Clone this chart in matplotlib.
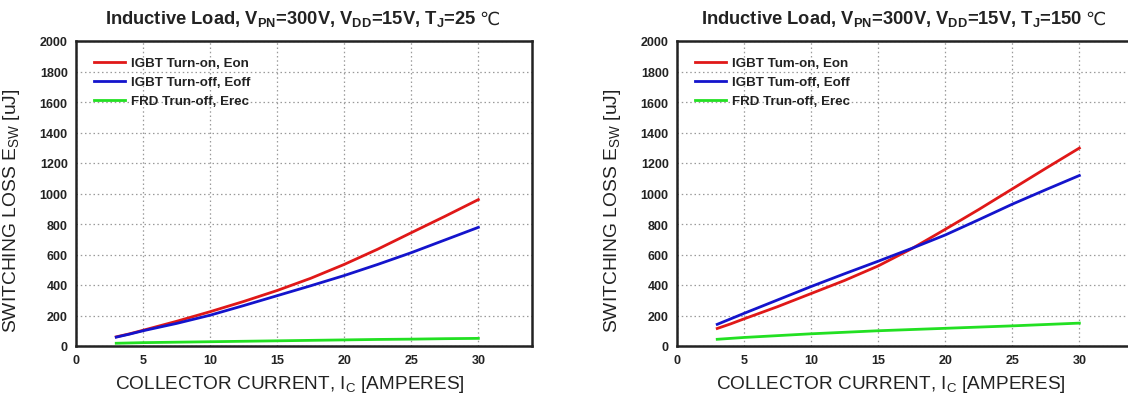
import matplotlib
matplotlib.use("Agg")
import matplotlib.pyplot as plt

plt.rcParams['font.family'] = ['Liberation Sans', 'DejaVu Sans']
plt.rcParams['mathtext.fontset'] = 'custom'
plt.rcParams['mathtext.rm'] = 'Liberation Sans'
plt.rcParams['mathtext.bf'] = 'Liberation Sans:bold'
plt.rcParams['mathtext.it'] = 'Liberation Sans:italic'
plt.rcParams['mathtext.sf'] = 'Liberation Sans'

# ---- data ----
ic = [3, 4, 5, 7.5, 10, 12.5, 15, 17.5, 20, 22.5, 25, 27.5, 30]
eon_25 = [60, 80, 103, 162, 225, 292, 364, 444, 535, 635, 743, 850, 960]
eoff_25 = [58, 78, 100, 148, 202, 265, 330, 395, 462, 535, 612, 695, 778]
erec_25 = [18, 20, 22, 25, 28, 31, 34, 37, 40, 43, 45, 48, 50]

eon_150 = [115, 145, 178, 258, 344, 430, 525, 638, 765, 895, 1030, 1165, 1298]
eoff_150 = [142, 178, 214, 302, 390, 474, 556, 640, 728, 828, 930, 1025, 1118]
erec_150 = [44, 50, 56, 68, 80, 90, 100, 108, 116, 124, 132, 141, 150]

temps = ["25", "150"]
labels_l = ["IGBT Turn-on, Eon", "IGBT Turn-off, Eoff", "FRD Trun-off, Erec"]
labels_r = ["IGBT Tum-on, Eon", "IGBT Tum-off, Eoff", "FRD Trun-off, Erec"]
xticks = [0, 5, 10, 15, 20, 25, 30]
yticks = list(range(0, 2001, 200))

colors = ["#e01818", "#1414cc", "#22e022"]

W, H = 1128, 402
fig = plt.figure(figsize=(W / 100, H / 100), dpi=100)

def px_axes(x0, x1, ytop, ybot):
    return fig.add_axes([x0 / W, 1 - ybot / H, (x1 - x0) / W, (ybot - ytop) / H])

panels = [
    (px_axes(76, 532, 42, 347), temps[0], labels_l, (eon_25, eoff_25, erec_25)),
    (px_axes(677, 1133, 42, 347), temps[1], labels_r, (eon_150, eoff_150, erec_150)),
]

for ax, t, labs, series in panels:
    for y, c, lab in zip(series, colors, labs):
        ax.plot(ic, y, color=c, lw=2, label=lab)
    ax.set_xlim(0, 34)
    ax.set_ylim(0, 2000)
    ax.set_xticks(xticks)
    ax.set_yticks(yticks)
    ax.tick_params(length=0, labelsize=9, pad=6)
    for lbl in ax.get_xticklabels() + ax.get_yticklabels():
        lbl.set_fontweight('bold')
        lbl.set_color('#222222')
    ax.grid(True, color='#9a9a9a', linestyle=(0, (1.2, 2.2)), lw=0.9)
    for s in ax.spines.values():
        s.set_linewidth(1.8)
        s.set_color('#222222')
    ax.set_xlabel(r"COLLECTOR CURRENT, I$_\mathrm{C}$ [AMPERES]", fontsize=13.7,
                  color='#222222')
    ax.xaxis.set_label_coords(0.468, -0.088)
    ax.set_ylabel(r"SWITCHING LOSS E$_\mathrm{SW}$ [uJ]", fontsize=13.9,
                  color='#222222')
    ax.yaxis.set_label_coords(-0.118, 0.4475)
    ttl = ax.set_title(r"Inductive Load, V$_\mathbf{PN}$=300V, V$_\mathbf{DD}$=15V, T$_\mathbf{J}$=" + t,
                       fontsize=13.2, fontweight='bold', color='#222222', pad=13, x=0.47)
    ax.annotate("\u2103", xy=(1, 0), xycoords=ttl, xytext=(2, 0), textcoords='offset points',
                ha='left', va='bottom', fontsize=13, family='DejaVu Sans', color='#222222')
    leg = ax.legend(loc='upper left', frameon=False, prop={'weight': 'bold', 'size': 9.6},
                    handlelength=2.3, handletextpad=0.45, labelspacing=0.5,
                    borderaxespad=0.0, bbox_to_anchor=(0.028, 0.965))
    for text in leg.get_texts():
        text.set_color('#222222')

fig.savefig("out.png", dpi=100)
